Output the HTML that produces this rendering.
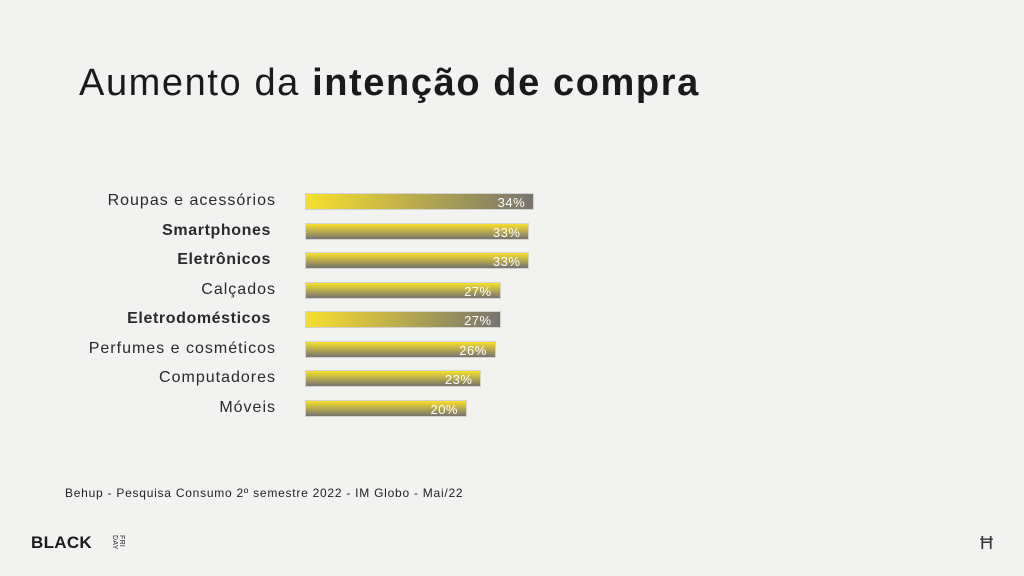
<!DOCTYPE html>
<html><head><meta charset="utf-8">
<style>
body{margin:0;width:1024px;height:576px;background:#f2f2f1;font-family:"Liberation Sans",sans-serif;position:relative;overflow:hidden;color:#1a1a1a}
.t{position:absolute;left:79px;top:62px;font-size:38px;letter-spacing:1.6px;color:#1a1a1a;white-space:nowrap}
.lab{position:absolute;right:748px;font-size:16px;letter-spacing:1px;color:#2a2a2a;text-align:right;white-space:nowrap}
.bar{position:absolute;left:305px;height:17px;box-sizing:border-box;border:1px solid #d2d2d0}
.v{position:absolute;right:8px;top:0;line-height:17px;font-size:13px;letter-spacing:0.5px;color:#fff}
.src{position:absolute;left:65px;top:486px;font-size:12px;letter-spacing:0.75px;color:#222;white-space:nowrap}
</style></head><body>
<div class="t">Aumento da <b>intenção de compra</b></div>
<div id="chart"></div>
<div class="src">Behup - Pesquisa Consumo 2º semestre 2022 - IM Globo - Mai/22</div>
<div style="position:absolute;left:31px;top:533px;font-size:17px;font-weight:bold;letter-spacing:0.3px;white-space:nowrap">BLACK<span style="position:absolute;left:80px;top:2px;font-size:7px;font-weight:normal;line-height:7px;transform:rotate(90deg);transform-origin:left top;margin-left:14px">FRI<br>DAY</span></div>
<div style="position:absolute;left:980px;top:533px;font-size:18px;color:#333">Ħ</div>
<script>
const categories=["Roupas e acessórios","Smartphones","Eletrônicos","Calçados","Eletrodomésticos","Perfumes e cosméticos","Computadores","Móveis"];
const values=[34,33,33,27,27,26,23,20];
const boldRows=[false,true,true,false,true,false,false,false];
const horizRows=[true,false,false,false,true,false,false,false];
const c=document.getElementById('chart');
function xw(v){return 66+4.8*v;}
function yr(i){return 193+i*29.5;}
categories.forEach((cat,i)=>{
  const l=document.createElement('div');
  l.className='lab';
  
  
  l.textContent=cat;
  l.style.top=(yr(i)-1)+'px';
  if(boldRows[i]){l.style.fontWeight='bold';l.style.right='753px';l.style.letterSpacing='0.6px';}
  c.appendChild(l);
  const b=document.createElement('div');
  b.className='bar';
  
  
  b.style.top=yr(i)+'px';
  b.style.width=xw(values[i])+'px';
  b.style.background=horizRows[i]?'linear-gradient(100deg,#f8e02e,#77736e)':'linear-gradient(180deg,#f8e02e,#77736e)';
  const v=document.createElement('span');
  v.className='v';
  
  
  v.textContent=values[i]+'%';
  b.appendChild(v);
  c.appendChild(b);
});
</script>
</body></html>
